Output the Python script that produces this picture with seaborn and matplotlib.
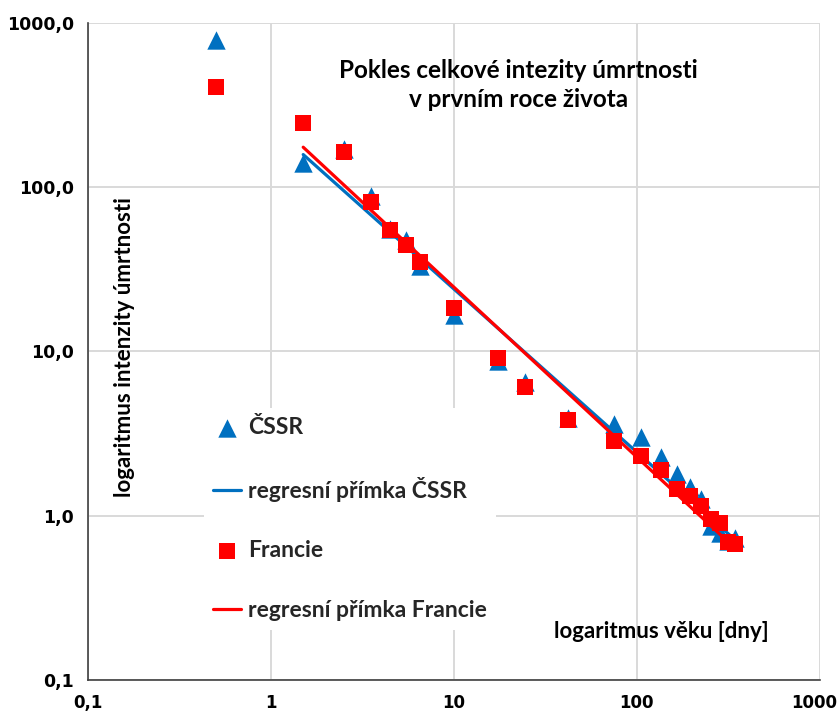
import numpy as np
import pandas as pd
import matplotlib
matplotlib.use("Agg")
import matplotlib.pyplot as plt
import seaborn as sns
from matplotlib.ticker import FixedLocator, FixedFormatter, NullLocator
from matplotlib.transforms import ScaledTranslation

# ---- data ----
age_days = [0.5, 1.5, 2.5, 3.5, 4.5, 5.5, 6.5, 10, 17.5, 24.5, 42, 75,
            105, 135, 165, 195, 225, 255, 285, 315, 345]
cssr = [790, 140, 170, 88, 56, 47.5, 33, 16.6, 8.8, 6.5, 3.96, 3.64,
        3.03, 2.29, 1.80, 1.50, 1.27, 0.86, 0.78, 0.70, 0.73]
francie = [407, 246, 163, 81, 54.7, 44.3, 34.9, 18.5, 9.06, 6.1, 3.8, 2.83,
           2.32, 1.91, 1.46, 1.31, 1.15, 0.96, 0.90, 0.69, 0.67]

x_ticks = [0.1, 1, 10, 100, 1000]
x_tick_labels = ["0,1", "1", "10", "100", "1000"]
y_ticks = [0.1, 1, 10, 100, 1000]
y_tick_labels = ["0,1", "1,0", "10,0", "100,0", "1000,0"]

title_text = "Pokles celkové intezity úmrtnosti\nv prvním roce života"
x_label = "logaritmus věku [dny]"
y_label = "logaritmus intenzity úmrtnosti"
series_names = ["ČSSR", "regresní přímka ČSSR", "Francie", "regresní přímka Francie"]

BLUE = "#0070C0"
RED = "#FF0000"

sns.set_theme(style="white")
plt.rcParams["font.family"] = ["Lato", "DejaVu Sans"]
plt.rcParams["font.weight"] = "bold"

fig = plt.figure(figsize=(8.39, 7.15), dpi=100)
ax = fig.add_axes([0.105, 0.049, 0.872, 0.919])

df = pd.DataFrame({"x": age_days, "cssr": cssr, "francie": francie})

# regression lines (power law fit in log-log space, days >= 1.5)
fit_df = df[df["x"] >= 1.5]
lx = np.log10(fit_df["x"].to_numpy())
b_c, a_c = np.polyfit(lx, np.log10(fit_df["cssr"].to_numpy()), 1)
b_f, a_f = np.polyfit(lx, np.log10(fit_df["francie"].to_numpy()), 1)
reg = pd.DataFrame({"x": fit_df["x"].to_numpy()})
reg["cssr"] = 10 ** (a_c + b_c * lx)
reg["francie"] = 10 ** (a_f + b_f * lx)

ax.set_xscale("log")
ax.set_yscale("log")

sns.scatterplot(data=df, x="x", y="cssr", marker="^", s=175, color=BLUE,
                edgecolor=BLUE, linewidth=0, ax=ax, label=series_names[0], zorder=3)
sns.lineplot(data=reg, x="x", y="cssr", color=BLUE, linewidth=2.3, ax=ax,
             label=series_names[1], zorder=4)
sns.scatterplot(data=df, x="x", y="francie", marker="s", s=125, color=RED,
                edgecolor=RED, linewidth=0, ax=ax, label=series_names[2], zorder=5)
sns.lineplot(data=reg, x="x", y="francie", color=RED, linewidth=2.3, ax=ax,
             label=series_names[3], zorder=6)

ax.set_xlim(0.1, 1000)
ax.set_ylim(0.1, 1000)

ax.xaxis.set_major_locator(FixedLocator(x_ticks))
ax.xaxis.set_major_formatter(FixedFormatter(x_tick_labels))
ax.yaxis.set_major_locator(FixedLocator(y_ticks))
ax.yaxis.set_major_formatter(FixedFormatter(y_tick_labels))
ax.xaxis.set_minor_locator(NullLocator())
ax.yaxis.set_minor_locator(NullLocator())

ax.grid(True, which="major", color="#D9D9D9", linewidth=1.4, zorder=0)
ax.set_axisbelow(True)
for s in ["top", "right"]:
    ax.spines[s].set_visible(False)
ax.spines["left"].set_color("#404040")
ax.spines["bottom"].set_color("#404040")
ax.spines["left"].set_linewidth(1.2)
ax.spines["bottom"].set_linewidth(1.2)
ax.tick_params(axis="both", which="major", direction="out", length=6, width=1.2,
               color="#404040", labelcolor="black")
ax.tick_params(axis="x", pad=4)
ax.tick_params(axis="y", pad=4)
for lab in ax.get_yticklabels():
    lab.set_fontweight("bold")
    lab.set_fontfamily("DejaVu Sans")
    lab.set_fontsize(12.5)
xlabs = ax.get_xticklabels()
for lab in xlabs:
    lab.set_fontweight("bold")
    lab.set_fontfamily("DejaVu Sans")
    lab.set_fontsize(12)
# keep the last x tick label inside the figure edge
last = xlabs[-1]
last.set_horizontalalignment("right")
last.set_transform(last.get_transform() + ScaledTranslation(0.17, 0, fig.dpi_scale_trans))

ax.set_xlabel("")
ax.set_ylabel("")
ax.text(0.05, 0.507, y_label, transform=ax.transAxes, rotation=90,
        ha="center", va="center", fontsize=16, fontweight="bold", color="black")
ax.text(0.783, 0.073, x_label, transform=ax.transAxes, ha="center", va="center",
        fontsize=16, fontweight="bold", color="black")
ax.text(0.588, 0.905, title_text, transform=ax.transAxes, ha="center", va="center",
        fontsize=17.5, fontweight="bold", color="black", linespacing=1.3)

handles, labels = ax.get_legend_handles_labels()
order = [labels.index(n) for n in series_names]
leg = ax.legend([handles[i] for i in order], [labels[i] for i in order],
                loc="upper left", bbox_to_anchor=(0.143, 0.431), frameon=True,
                fancybox=False, framealpha=1, facecolor="white", edgecolor="none",
                prop={"family": "Lato", "weight": "bold", "size": 16.5},
                labelspacing=1.68, handlelength=1.2, handletextpad=0.3,
                borderpad=0.4, markerscale=1.0)
leg.set_zorder(10)

fig.savefig("out.png", dpi=100, facecolor="white")
